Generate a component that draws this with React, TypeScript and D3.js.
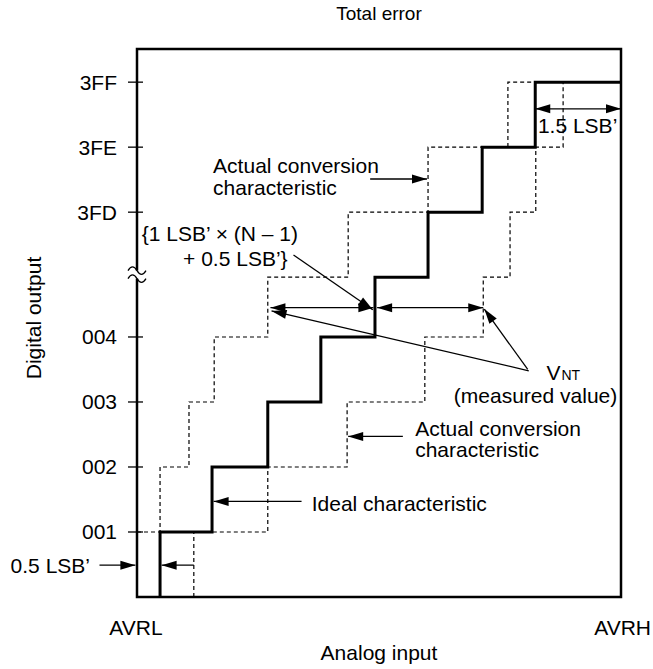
import React from "react";
import * as d3 from "d3";

const W = 653;
const H = 669;

// Output code levels (vertical units: 1 LSB per code; the axis break eats a little)
const levelValues = [0, 1, 2, 3, 4, 4.92, 5.92, 6.92, 7.92];
const tickLabels = ["001", "002", "003", "004", "3FD", "3FE", "3FF"];
const tickValues = [1, 2, 3, 4, 5.92, 6.92, 7.92];

// Analog input (LSB' units from AVRL) at which each code transition occurs
const idealTransitions = [0.43, 1.4, 2.44, 3.43, 4.44, 5.43, 6.44, 7.43];
const upperTransitions = [0, 0.43, 0.97, 1.44, 2.44, 3.94, 5.43, 6.92];
const lowerTransitions = [1.06, 2.44, 3.92, 5.37, 6.46, 6.96, 7.44, 7.95];

const X_MAX = 9.03;
const Y_MAX = 8.43;

const FONT = "'Liberation Sans', Arial, Helvetica, sans-serif";
const FS = 21;

const x = d3.scaleLinear().domain([0, X_MAX]).range([137, 621]);
const y = d3.scaleLinear().domain([0, Y_MAX]).range([597, 49]);

function stepPoints(trans: number[]): [number, number][] {
  const pts: [number, number][] = [];
  if (trans[0] > 0) pts.push([trans[0], levelValues[0]]);
  trans.forEach((t, i) => pts.push([t, levelValues[i + 1]]));
  pts.push([X_MAX, levelValues[levelValues.length - 1]]);
  return pts;
}

const stepLine = d3
  .line<[number, number]>()
  .x((d) => x(d[0]))
  .y((d) => y(d[1]))
  .curve(d3.curveStepAfter);

function Head({ fx, fy, tx, ty }: { fx: number; fy: number; tx: number; ty: number }) {
  const L = 15;
  const HW = 4.5;
  const dx = tx - fx;
  const dy = ty - fy;
  const len = Math.sqrt(dx * dx + dy * dy) || 1;
  const ux = dx / len;
  const uy = dy / len;
  const bx = tx - ux * L;
  const by = ty - uy * L;
  const px = -uy * HW;
  const py = ux * HW;
  return <polygon points={`${tx},${ty} ${bx + px},${by + py} ${bx - px},${by - py}`} fill="#000" />;
}

function Arrow({
  u1, l1, u2, l2, start = false, end = true,
}: { u1: number; l1: number; u2: number; l2: number; start?: boolean; end?: boolean }) {
  const x1 = x(u1), y1 = y(l1), x2 = x(u2), y2 = y(l2);
  return (
    <g>
      <line x1={x1} y1={y1} x2={x2} y2={y2} stroke="#000" strokeWidth={1.3} />
      {end && <Head fx={x1} fy={y1} tx={x2} ty={y2} />}
      {start && <Head fx={x2} fy={y2} tx={x1} ty={y1} />}
    </g>
  );
}

function Label({ u, l, children, anchor = "start", size = FS }: { u: number; l: number; children: React.ReactNode; anchor?: string; size?: number }) {
  return (
    <text x={x(u)} y={y(l)} textAnchor={anchor as any} fontFamily={FONT} fontSize={size} fill="#000">
      {children}
    </text>
  );
}

export default function App() {
  const x0 = x(0);
  const breakY = y((tickValues[3] + tickValues[4]) / 2);
  const wave = (yc: number) => `M ${x0 - 9} ${yc} c 3 -5 6 -5 9 0 s 6 5 9 0`;
  const vntTip = 4.4;
  const dblY = 4.45;
  return (
    <svg width={W} height={H} style={{ display: "block", position: "absolute", left: 0, top: 0 }}>
      <rect width={W} height={H} fill="#fff" />
      {/* title */}
      <text x={379} y={20} textAnchor="middle" fontFamily={FONT} fontSize={19} fill="#000">
        Total error
      </text>

      {/* dashed actual characteristics */}
      <path d={stepLine(stepPoints(upperTransitions)) || ""} fill="none" stroke="#000" strokeWidth={1.2} strokeDasharray="4 3" />
      <path d={stepLine(stepPoints(lowerTransitions)) || ""} fill="none" stroke="#000" strokeWidth={1.2} strokeDasharray="4 3" />
      {/* ideal */}
      <path d={stepLine(stepPoints(idealTransitions)) || ""} fill="none" stroke="#000" strokeWidth={3} />

      {/* frame */}
      <rect x={x(0)} y={y(Y_MAX)} width={x(X_MAX) - x(0)} height={y(0) - y(Y_MAX)} fill="none" stroke="#000" strokeWidth={2.5} />

      {/* y ticks */}
      {tickValues.map((v, i) => (
        <g key={tickLabels[i]}>
          <line x1={x0 - 9} x2={x0 + 6} y1={y(v)} y2={y(v)} stroke="#000" strokeWidth={1.3} />
          <text x={117} y={y(v) + 7.5} textAnchor="end" fontFamily={FONT} fontSize={FS} fill="#000">
            {tickLabels[i]}
          </text>
        </g>
      ))}

      {/* axis break */}
      <rect x={x0 - 4} y={breakY - 4} width={8} height={8} fill="#fff" />
      <path d={wave(breakY - 4)} fill="none" stroke="#000" strokeWidth={1.3} />
      <path d={wave(breakY + 4)} fill="none" stroke="#000" strokeWidth={1.3} />

      {/* axis titles */}
      <text transform={`translate(41,318) rotate(-90)`} textAnchor="middle" fontFamily={FONT} fontSize={FS} fill="#000">
        Digital output
      </text>
      <text x={136} y={635} textAnchor="middle" fontFamily={FONT} fontSize={FS} fill="#000">AVRL</text>
      <text x={651} y={635} textAnchor="end" fontFamily={FONT} fontSize={FS} fill="#000">AVRH</text>
      <text x={379} y={660} textAnchor="middle" fontFamily={FONT} fontSize={FS} fill="#000">Analog input</text>

      {/* 1.5 LSB' */}
      <Arrow u1={idealTransitions[7]} l1={7.51} u2={X_MAX} l2={7.51} start end />
      <Label u={7.48} l={7.14}>1.5 LSB’</Label>

      {/* upper actual conversion label */}
      <Label u={1.42} l={6.52}>Actual conversion</Label>
      <Label u={1.42} l={6.18}>characteristic</Label>
      <Arrow u1={4.35} l1={6.43} u2={upperTransitions[6] - 0.02} l2={6.43} />

      {/* N-1 annotation */}
      <Label u={0.09} l={5.47}>{"{1 LSB’ × (N – 1)"}</Label>
      <Label u={0.86} l={5.09}>{"+ 0.5 LSB’}"}</Label>
      <Arrow u1={2.92} l1={5.26} u2={idealTransitions[4] - 0.04} l2={dblY - 0.03} />

      {/* double arrows */}
      <Arrow u1={upperTransitions[4] + 0.05} l1={dblY} u2={idealTransitions[4] - 0.03} l2={dblY} start end />
      <Arrow u1={idealTransitions[4] + 0.04} l1={dblY} u2={lowerTransitions[4]} l2={dblY} start end />

      {/* VNT leaders */}
      <Arrow u1={7.31} l1={3.48} u2={upperTransitions[4] + 0.07} l2={vntTip} />
      <Arrow u1={7.29} l1={3.5} u2={lowerTransitions[4] + 0.02} l2={dblY - 0.02} />
      <Label u={7.64} l={3.34}>V</Label>
      <Label u={7.92} l={3.34} size={14}>NT</Label>
      <Label u={8.96} l={2.985} anchor="end">(measured value)</Label>

      {/* lower actual conversion label */}
      <Label u={5.19} l={2.48}>Actual conversion</Label>
      <Label u={5.19} l={2.16}>characteristic</Label>
      <Arrow u1={4.96} l1={2.47} u2={lowerTransitions[2] + 0.02} l2={2.47} />

      {/* ideal label */}
      <Label u={3.26} l={1.32}>Ideal characteristic</Label>
      <Arrow u1={3.07} l1={1.47} u2={idealTransitions[1] + 0.03} l2={1.47} />

      {/* 0.5 LSB' */}
      <text x={90} y={y(0.37)} textAnchor="end" fontFamily={FONT} fontSize={FS} fill="#000">0.5 LSB’</text>
      <Arrow u1={-0.7} l1={0.49} u2={-0.03} l2={0.49} />
      <Arrow u1={lowerTransitions[0]} l1={0.49} u2={idealTransitions[0] + 0.03} l2={0.49} />
    </svg>
  );
}
